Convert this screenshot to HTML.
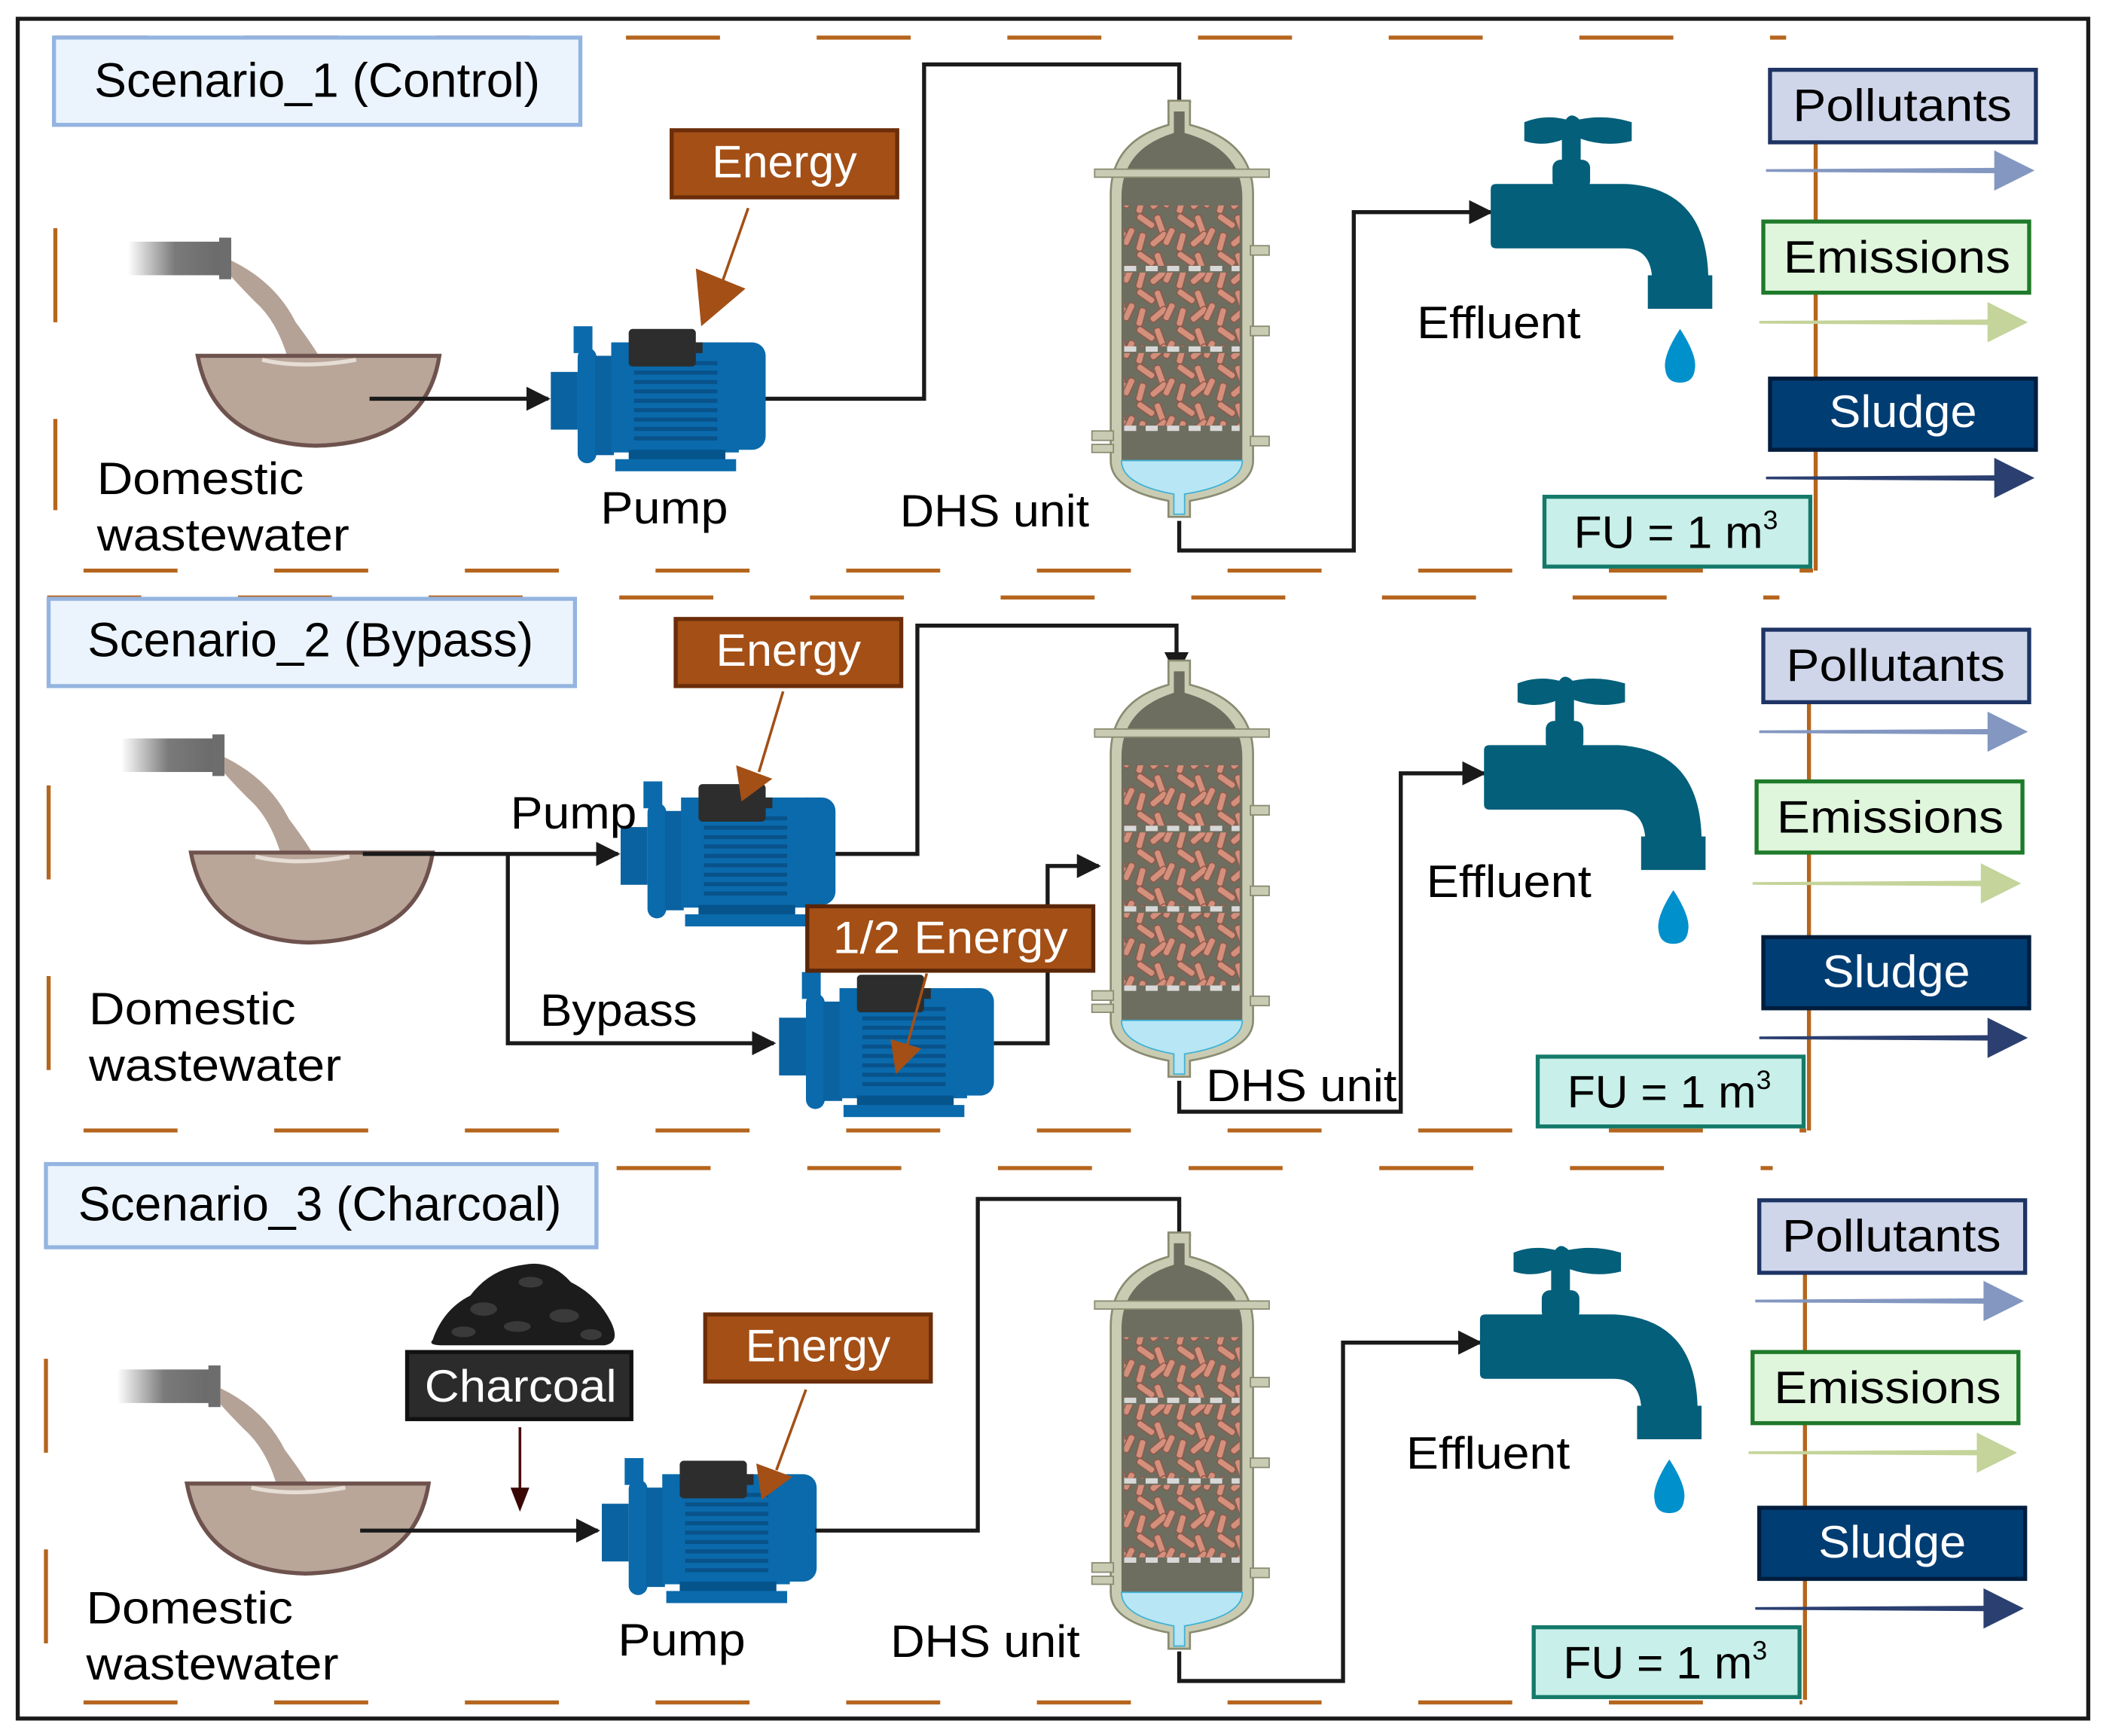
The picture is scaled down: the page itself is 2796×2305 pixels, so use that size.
<!DOCTYPE html>
<html><head><meta charset="utf-8"><style>
html,body{margin:0;padding:0;background:#fff}
svg{display:block}
text{font-family:"Liberation Sans",sans-serif}
</style></head><body>
<svg xmlns="http://www.w3.org/2000/svg" width="2796" height="2305" viewBox="0 0 1568 1293">
<defs>
<linearGradient id="pipeg" x1="0" x2="1" y1="0" y2="0"><stop offset="0" stop-color="#7a7a7a" stop-opacity="0"/><stop offset="0.5" stop-color="#7a7a7a"/><stop offset="1" stop-color="#6a6a6a"/></linearGradient>
<pattern id="rods" width="30" height="28" patternUnits="userSpaceOnUse">
<g fill="#d3907c" stroke="#8f5547" stroke-width="0.8">
<rect x="1" y="3" width="15" height="5" rx="2" transform="rotate(35 8 5)"/>
<rect x="16" y="1" width="5" height="15" rx="2" transform="rotate(-20 18 8)"/>
<rect x="2" y="14" width="5" height="14" rx="2" transform="rotate(15 4 21)"/>
<rect x="10" y="17" width="15" height="5" rx="2" transform="rotate(-40 17 19)"/>
<rect x="23" y="10" width="5" height="14" rx="2" transform="rotate(25 25 17)"/>
</g></pattern>
<g id="bowl">
<rect x="0" y="0" width="70" height="25" fill="url(#pipeg)"/>
<rect x="68" y="-3" width="9" height="31" fill="#6d6d6d"/>
<path d="M77,14 Q110,30 125,60 Q140,80 145,90 L120,90 Q112,60 95,45 Q85,35 77,26 Z" fill="#b5a296"/>
<path d="M52,85 L232,85 Q222,150 140,152 Q64,150 52,85 Z" fill="#b9a699" stroke="#6e524d" stroke-width="3"/>
<path d="M100,88 Q130,95 170,88" stroke="#e6ddd5" stroke-width="3" fill="none"/>
</g>
<g id="pump">
<rect x="0" y="34" width="20" height="43" fill="#0a62a0"/>
<rect x="17" y="0" width="14" height="20" fill="#0a6aac"/>
<rect x="20" y="16" width="14" height="86" rx="7" fill="#0a6aac"/>
<rect x="33" y="22" width="14" height="74" fill="#0a62a0"/>
<rect x="45" y="12" width="95" height="82" fill="#0a6aac"/>
<g fill="#09528a"><rect x="62" y="26" width="62" height="3"/><rect x="62" y="33" width="62" height="3"/><rect x="62" y="40" width="62" height="3"/><rect x="62" y="47" width="62" height="3"/><rect x="62" y="54" width="62" height="3"/><rect x="62" y="61" width="62" height="3"/><rect x="62" y="68" width="62" height="3"/><rect x="62" y="75" width="62" height="3"/><rect x="62" y="82" width="62" height="3"/></g>
<rect x="128" y="12" width="32" height="80" rx="10" fill="#0a6aac"/>
<rect x="58" y="2" width="50" height="28" rx="3" fill="#2d2d2d"/>
<rect x="108" y="12" width="5" height="8" fill="#2d2d2d"/>
<rect x="58" y="92" width="72" height="10" fill="#05548c"/>
<rect x="48" y="99" width="90" height="9" fill="#0a6aac"/>
</g>
<g id="dhs">
<path d="M55,0 L71,0 L71,18 Q118,30 118,70 L118,268 Q118,290 71,298 L71,310 L55,310 L55,298 Q12,290 12,268 L12,70 Q12,30 55,18 Z" fill="#c9ccb3" stroke="#8a8c72" stroke-width="1.5"/>
<path d="M59,8 L67,8 L67,24 Q110,36 110,72 L110,266 Q110,286 67,293 L67,308 L59,308 L59,293 Q20,286 20,266 L20,72 Q20,36 59,24 Z" fill="#6d6e5f"/>
<path d="M20,268 L110,268 Q110,286 67,293 L67,308 L59,308 L59,293 Q20,286 20,268 Z" fill="#b8e6f5" stroke="#3fb2d6" stroke-width="1"/>
<rect x="0" y="51" width="130" height="6" fill="#c9ccb3" stroke="#8a8c72" stroke-width="1"/>
<rect x="22" y="78" width="86" height="45" fill="url(#rods)"/>
<rect x="22" y="128" width="86" height="55" fill="url(#rods)"/>
<rect x="22" y="188" width="86" height="54" fill="url(#rods)"/>
<g stroke="#d8d8d8" stroke-width="4" stroke-dasharray="9,7"><line x1="22" y1="125" x2="108" y2="125"/><line x1="22" y1="185" x2="108" y2="185"/><line x1="22" y1="244" x2="108" y2="244"/></g>
<g fill="#c9ccb3" stroke="#8a8c72" stroke-width="1"><rect x="116" y="108" width="14" height="7"/><rect x="116" y="168" width="14" height="7"/><rect x="116" y="250" width="14" height="7"/><rect x="-2" y="246" width="16" height="7"/><rect x="-2" y="256" width="16" height="6"/></g>
</g>
<g id="tap">
<path d="M25,6 Q40,0 56,4 Q60,-2 66,4 Q85,0 105,6 L105,20 Q85,25 66,18 Q60,24 56,18 Q40,25 25,20 Z" fill="#035f7a"/>
<rect x="53" y="16" width="14" height="24" fill="#035f7a"/>
<rect x="46" y="34" width="28" height="22" rx="6" fill="#035f7a"/>
<path d="M0,56 Q0,52 4,52 L100,52 Q160,55 162,120 L165,120 L165,145 L117,145 L117,120 L120,120 Q118,100 100,100 L4,100 Q0,100 0,96 Z" fill="#035f7a"/>
<path d="M141,160 Q128,180 130,190 Q131,200 141,200 Q151,200 152,190 Q154,180 141,160 Z" fill="#0090cc"/>
</g>
<marker id="ab" viewBox="0 0 10 10" refX="9" refY="5" markerWidth="6" markerHeight="6" orient="auto"><path d="M0,0 L10,5 L0,10 Z" fill="#1a1a1a"/></marker>
</defs>

<rect x="13" y="14" width="1542" height="1266" fill="#fff" stroke="#1a1a1a" stroke-width="3"/>

<g stroke="#b5651d" stroke-width="3" stroke-dasharray="70,72" fill="none">
<line x1="40" y1="28" x2="1330" y2="28"/><line x1="62" y1="425" x2="1350" y2="425"/><line x1="41" y1="170" x2="41" y2="380"/>
<line x1="35" y1="445" x2="1325" y2="445"/><line x1="62" y1="842" x2="1345" y2="842"/><line x1="36" y1="585" x2="36" y2="805"/>
<line x1="33" y1="870" x2="1320" y2="870"/><line x1="62" y1="1268" x2="1342" y2="1268"/><line x1="34" y1="1012" x2="34" y2="1230"/>
</g>
<g stroke="#b5651d" stroke-width="3"><line x1="1352" y1="105" x2="1352" y2="425"/><line x1="1347" y1="522" x2="1347" y2="842"/><line x1="1344" y1="947" x2="1344" y2="1266"/></g>

<!-- Section 1 -->
<rect x="40" y="28" width="392" height="65" fill="#ebf4fc" stroke="#94b4e0" stroke-width="3"/>
<text x="70" y="72" font-size="36" textLength="332" lengthAdjust="spacingAndGlyphs">Scenario_1 (Control)</text>
<use href="#bowl" transform="translate(95,180)"/>
<line x1="275" y1="297" x2="408" y2="297" stroke="#1a1a1a" stroke-width="3" marker-end="url(#ab)"/>
<use href="#pump" transform="translate(410,243)"/>
<rect x="500" y="97" width="168" height="50" fill="#a34f16" stroke="#6b2d0a" stroke-width="3"/>
<text x="530" y="132" font-size="34" fill="#fff" textLength="108" lengthAdjust="spacingAndGlyphs">Energy</text>
<line x1="557" y1="155" x2="537" y2="212" stroke="#a34f16" stroke-width="2"/><path d="M522,243 L518,200 L555,215 Z" fill="#a34f16"/>
<polyline points="570,297 688,297 688,48 878,48 878,92" fill="none" stroke="#1a1a1a" stroke-width="3" marker-end="url(#ab)"/>
<use href="#dhs" transform="translate(815,75)"/>
<polyline points="878,388 878,410 1008,410 1008,158 1110,158" fill="none" stroke="#1a1a1a" stroke-width="3" marker-end="url(#ab)"/>
<use href="#tap" transform="translate(1110,85)"/>
<text x="72" y="368" font-size="34" textLength="154" lengthAdjust="spacingAndGlyphs">Domestic</text>
<text x="72" y="410" font-size="34" textLength="188" lengthAdjust="spacingAndGlyphs">wastewater</text>
<text x="447" y="390" font-size="34" textLength="95" lengthAdjust="spacingAndGlyphs">Pump</text>
<text x="670" y="392" font-size="34" textLength="141" lengthAdjust="spacingAndGlyphs">DHS unit</text>
<text x="1055" y="252" font-size="34" textLength="122" lengthAdjust="spacingAndGlyphs">Effluent</text>
<rect x="1318" y="52" width="198" height="54" fill="#cfd6ea" stroke="#1e3464" stroke-width="3"/>
<text x="1335" y="90" font-size="34" textLength="163" lengthAdjust="spacingAndGlyphs">Pollutants</text>
<rect x="1313" y="165" width="198" height="53" fill="#dff5dc" stroke="#1e7a2a" stroke-width="3"/>
<text x="1328" y="203" font-size="34" textLength="169" lengthAdjust="spacingAndGlyphs">Emissions</text>
<rect x="1318" y="282" width="198" height="53" fill="#003d73" stroke="#001d3d" stroke-width="3"/>
<text x="1362" y="318" font-size="34" fill="#fff" textLength="110" lengthAdjust="spacingAndGlyphs">Sludge</text>
<rect x="1150" y="370" width="198" height="52" fill="#c8efe9" stroke="#157a6a" stroke-width="3"/>
<text x="1172" y="408" font-size="34">FU = 1 m<tspan font-size="20" dy="-14">3</tspan></text>
<path d="M1315,126 L1485,125 L1485,112 L1515,127 L1485,142 L1485,129 L1315,128 Z" fill="#8397c0"/>
<path d="M1310,239 L1480,238 L1480,225 L1510,240 L1480,255 L1480,242 L1310,241 Z" fill="#c4d49a"/>
<path d="M1315,355 L1485,354 L1485,341 L1515,356 L1485,371 L1485,358 L1315,357 Z" fill="#2b3f70"/>

<!-- Section 2 -->
<rect x="36" y="446" width="392" height="65" fill="#ebf4fc" stroke="#94b4e0" stroke-width="3"/>
<text x="65" y="489" font-size="36" textLength="332" lengthAdjust="spacingAndGlyphs">Scenario_2 (Bypass)</text>
<use href="#bowl" transform="translate(90,550)"/>
<line x1="270" y1="636" x2="460" y2="636" stroke="#1a1a1a" stroke-width="3" marker-end="url(#ab)"/>
<polyline points="378,636 378,777 576,777" fill="none" stroke="#1a1a1a" stroke-width="3" marker-end="url(#ab)"/>
<use href="#pump" transform="translate(462,582)"/>
<use href="#pump" transform="translate(580,724)"/>
<rect x="503" y="461" width="168" height="50" fill="#a34f16" stroke="#6b2d0a" stroke-width="3"/>
<text x="533" y="496" font-size="34" fill="#fff" textLength="108" lengthAdjust="spacingAndGlyphs">Energy</text>
<line x1="583" y1="515" x2="565" y2="575" stroke="#a34f16" stroke-width="2"/><path d="M552,597 L548,570 L575,580 Z" fill="#a34f16"/>
<polyline points="622,636 683,636 683,466 876,466 876,502" fill="none" stroke="#1a1a1a" stroke-width="3" marker-end="url(#ab)"/>
<polyline points="740,777 780,777 780,645 818,645" fill="none" stroke="#1a1a1a" stroke-width="3" marker-end="url(#ab)"/>
<rect x="601" y="675" width="213" height="48" fill="#a34f16" stroke="#5a2508" stroke-width="3"/>
<text x="620" y="710" font-size="34" fill="#fff" textLength="175" lengthAdjust="spacingAndGlyphs">1/2 Energy</text>
<line x1="690" y1="725" x2="675" y2="780" stroke="#a34f16" stroke-width="2"/><path d="M667,800 L663,774 L686,781 Z" fill="#a34f16"/>
<use href="#dhs" transform="translate(815,492)"/>
<polyline points="878,805 878,828 1043,828 1043,576 1105,576" fill="none" stroke="#1a1a1a" stroke-width="3" marker-end="url(#ab)"/>
<use href="#tap" transform="translate(1105,503)"/>
<text x="380" y="617" font-size="34" textLength="94" lengthAdjust="spacingAndGlyphs">Pump</text>
<text x="402" y="764" font-size="34" textLength="117" lengthAdjust="spacingAndGlyphs">Bypass</text>
<text x="66" y="763" font-size="34" textLength="154" lengthAdjust="spacingAndGlyphs">Domestic</text>
<text x="66" y="805" font-size="34" textLength="188" lengthAdjust="spacingAndGlyphs">wastewater</text>
<text x="898" y="820" font-size="34" textLength="142" lengthAdjust="spacingAndGlyphs">DHS unit</text>
<text x="1062" y="668" font-size="34" textLength="123" lengthAdjust="spacingAndGlyphs">Effluent</text>
<rect x="1313" y="469" width="198" height="54" fill="#cfd6ea" stroke="#1e3464" stroke-width="3"/>
<text x="1330" y="507" font-size="34" textLength="163" lengthAdjust="spacingAndGlyphs">Pollutants</text>
<rect x="1308" y="582" width="198" height="53" fill="#dff5dc" stroke="#1e7a2a" stroke-width="3"/>
<text x="1323" y="620" font-size="34" textLength="169" lengthAdjust="spacingAndGlyphs">Emissions</text>
<rect x="1313" y="698" width="198" height="53" fill="#003d73" stroke="#001d3d" stroke-width="3"/>
<text x="1357" y="735" font-size="34" fill="#fff" textLength="110" lengthAdjust="spacingAndGlyphs">Sludge</text>
<rect x="1145" y="787" width="198" height="52" fill="#c8efe9" stroke="#157a6a" stroke-width="3"/>
<text x="1167" y="825" font-size="34">FU = 1 m<tspan font-size="20" dy="-14">3</tspan></text>
<path d="M1310,544 L1480,543 L1480,530 L1510,545 L1480,560 L1480,547 L1310,546 Z" fill="#8397c0"/>
<path d="M1305,657 L1475,656 L1475,643 L1505,658 L1475,673 L1475,660 L1305,659 Z" fill="#c4d49a"/>
<path d="M1310,772 L1480,771 L1480,758 L1510,773 L1480,788 L1480,775 L1310,774 Z" fill="#2b3f70"/>

<!-- Section 3 -->
<rect x="34" y="867" width="410" height="62" fill="#ebf4fc" stroke="#94b4e0" stroke-width="3"/>
<text x="58" y="909" font-size="36" textLength="360" lengthAdjust="spacingAndGlyphs">Scenario_3 (Charcoal)</text>
<use href="#bowl" transform="translate(87,1020)"/>
<path d="M322,998 Q330,975 350,965 Q365,945 390,942 Q410,938 425,955 Q445,965 455,985 Q462,1000 450,1002 L330,1002 Q318,1002 322,998 Z" fill="#1c1c1c"/>
<g fill="#3a3a3a"><ellipse cx="360" cy="975" rx="10" ry="5"/><ellipse cx="395" cy="955" rx="9" ry="4"/><ellipse cx="420" cy="980" rx="11" ry="5"/><ellipse cx="345" cy="992" rx="9" ry="4"/><ellipse cx="440" cy="994" rx="8" ry="4"/><ellipse cx="385" cy="988" rx="10" ry="4"/></g>
<rect x="303" y="1007" width="167" height="50" fill="#2b2b2b" stroke="#111" stroke-width="3"/>
<text x="316" y="1044" font-size="34" fill="#fff" textLength="143" lengthAdjust="spacingAndGlyphs">Charcoal</text>
<line x1="387" y1="1063" x2="387" y2="1110" stroke="#4a0d0d" stroke-width="2"/><path d="M380,1108 L394,1108 L387,1126 Z" fill="#3a0707"/>
<line x1="268" y1="1140" x2="445" y2="1140" stroke="#1a1a1a" stroke-width="3" marker-end="url(#ab)"/>
<use href="#pump" transform="translate(448,1086)"/>
<rect x="525" y="979" width="168" height="50" fill="#a34f16" stroke="#6b2d0a" stroke-width="3"/>
<text x="555" y="1014" font-size="34" fill="#fff" textLength="108" lengthAdjust="spacingAndGlyphs">Energy</text>
<line x1="600" y1="1035" x2="578" y2="1095" stroke="#a34f16" stroke-width="2"/><path d="M567,1117 L563,1090 L590,1100 Z" fill="#a34f16"/>
<polyline points="607,1140 728,1140 728,893 878,893 878,936" fill="none" stroke="#1a1a1a" stroke-width="3" marker-end="url(#ab)"/>
<use href="#dhs" transform="translate(815,918)"/>
<polyline points="878,1230 878,1252 1000,1252 1000,1000 1102,1000" fill="none" stroke="#1a1a1a" stroke-width="3" marker-end="url(#ab)"/>
<use href="#tap" transform="translate(1102,927)"/>
<text x="64" y="1209" font-size="34" textLength="154" lengthAdjust="spacingAndGlyphs">Domestic</text>
<text x="64" y="1251" font-size="34" textLength="188" lengthAdjust="spacingAndGlyphs">wastewater</text>
<text x="460" y="1233" font-size="34" textLength="95" lengthAdjust="spacingAndGlyphs">Pump</text>
<text x="663" y="1234" font-size="34" textLength="141" lengthAdjust="spacingAndGlyphs">DHS unit</text>
<text x="1047" y="1094" font-size="34" textLength="122" lengthAdjust="spacingAndGlyphs">Effluent</text>
<rect x="1310" y="894" width="198" height="54" fill="#cfd6ea" stroke="#1e3464" stroke-width="3"/>
<text x="1327" y="932" font-size="34" textLength="163" lengthAdjust="spacingAndGlyphs">Pollutants</text>
<rect x="1305" y="1007" width="198" height="53" fill="#dff5dc" stroke="#1e7a2a" stroke-width="3"/>
<text x="1321" y="1045" font-size="34" textLength="169" lengthAdjust="spacingAndGlyphs">Emissions</text>
<rect x="1310" y="1123" width="198" height="53" fill="#003d73" stroke="#001d3d" stroke-width="3"/>
<text x="1354" y="1160" font-size="34" fill="#fff" textLength="110" lengthAdjust="spacingAndGlyphs">Sludge</text>
<rect x="1142" y="1212" width="198" height="52" fill="#c8efe9" stroke="#157a6a" stroke-width="3"/>
<text x="1164" y="1250" font-size="34">FU = 1 m<tspan font-size="20" dy="-14">3</tspan></text>
<path d="M1307,968 L1477,967 L1477,954 L1507,969 L1477,984 L1477,971 L1307,970 Z" fill="#8397c0"/>
<path d="M1302,1081 L1472,1080 L1472,1067 L1502,1082 L1472,1097 L1472,1084 L1302,1083 Z" fill="#c4d49a"/>
<path d="M1307,1197 L1477,1196 L1477,1183 L1507,1198 L1477,1213 L1477,1200 L1307,1199 Z" fill="#2b3f70"/>
</svg>
</body></html>
